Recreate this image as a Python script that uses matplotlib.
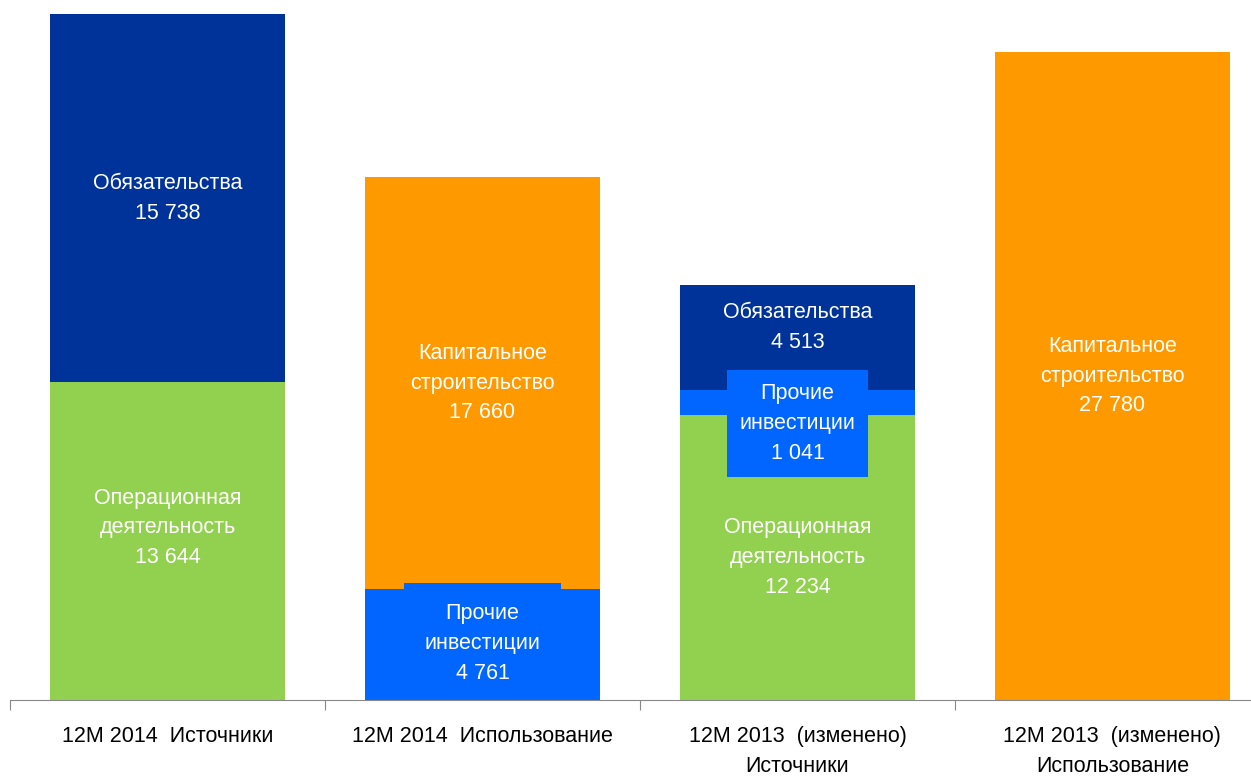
import matplotlib.pyplot as plt
import numpy as np

plt.rcParams['font.family'] = ['Liberation Sans', 'DejaVu Sans']

# Data
categories = ['12M 2014  Источники', '12M 2014  Использование',
              '12M 2013  (изменено)\nИсточники', '12M 2013  (изменено)\nИспользование']
operating = [13644, 0, 12234, 0]
other_inv = [0, 4761, 1041, 0]
liabilities = [15738, 0, 4513, 0]
capex = [0, 17660, 0, 27780]

series = [
    ('Операционная\nдеятельность', operating, '#92D050'),
    ('Прочие\nинвестиции', other_inv, '#0066FF'),
    ('Обязательства', liabilities, '#003399'),
    ('Капитальное\nстроительство', capex, '#FF9900'),
]

fig = plt.figure(figsize=(12.51, 7.79), dpi=100)
ax = fig.add_axes([0.008, 0.101, 0.992, 0.899])

x = np.arange(len(categories))
bottom = np.zeros(len(categories))
# vertical nudges (in data units) for some labels
nudge = {(2, 'Обязательства'): 450, (2, 'Прочие\nинвестиции'): -900,
         (0, 'Операционная\nдеятельность'): 560, (1, 'Прочие\nинвестиции'): 60}
box_pad = {1: 0.95, 2: 0.6}

for name, vals, color in series:
    vals = np.array(vals, dtype=float)
    ax.bar(x, vals, 0.744, bottom=bottom, color=color, zorder=2)
    for i, v in enumerate(vals):
        if v <= 0:
            continue
        txt = name + '\n' + f'{int(v):,}'.replace(',', ' ')
        y = bottom[i] + v / 2 + nudge.get((i, name), 0)
        kw = {}
        if color == '#0066FF':
            kw['bbox'] = dict(boxstyle=f'square,pad={box_pad[i]}', fc=color, ec='none')
        ax.text(i, y, txt, ha='center', va='center', color='white',
                fontsize=15.5, linespacing=1.55, zorder=2.2, clip_on=True, **kw)
    bottom += vals

ax.set_xlim(-0.5, 3.44)
ax.set_ylim(0, 30000)

for s in ['top', 'right', 'left']:
    ax.spines[s].set_visible(False)
ax.spines['bottom'].set_color('#888888')
ax.set_yticks([])
ax.set_xticks([-0.5, 0.5, 1.5, 2.5])
ax.set_xticklabels([])
ax.tick_params(axis='x', length=7, color='#888888', direction='out')

for i, c in enumerate(categories):
    ax.text(i, -0.037, c, transform=ax.get_xaxis_transform(), ha='center', va='top',
            fontsize=15.5, linespacing=1.55, color='black')

fig.savefig('out.png', dpi=100)
